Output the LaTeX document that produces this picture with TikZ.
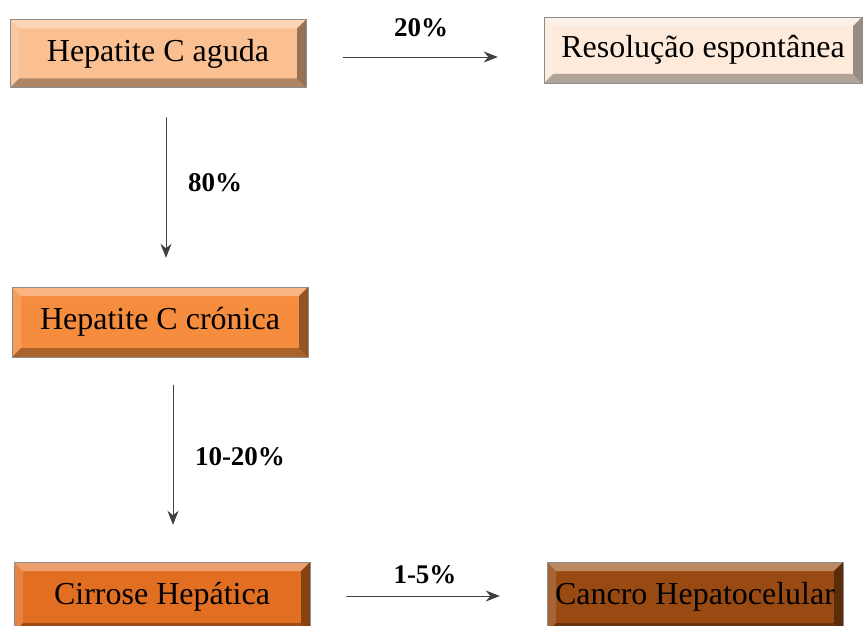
\documentclass[tikz,border=0pt]{standalone}
\usepackage{fontspec}
\setmainfont{Liberation Serif}
\usepackage{xcolor}
\usetikzlibrary{arrows.meta}

\definecolor{peach}{RGB}{250,192,146}
\definecolor{cream}{RGB}{253,234,219}
\definecolor{orangeA}{RGB}{246,141,62}
\definecolor{orangeB}{RGB}{226,110,34}
\definecolor{brownC}{RGB}{152,74,18}

\tikzset{
    bevelbox/.style={draw=black!45,line width=0.4pt,fill=#1,minimum width=296pt,minimum height=68pt,
        inner sep=0pt,font=\fontsize{32}{36}\selectfont,
        path picture={
            \fill[white,opacity=0.35] (path picture bounding box.north west) -- (path picture bounding box.north east)
                -- ([xshift=-9pt,yshift=-9pt]path picture bounding box.north east) -- ([xshift=9pt,yshift=-9pt]path picture bounding box.north west) -- cycle;
            \fill[white,opacity=0.15] (path picture bounding box.north west) -- ([xshift=9pt,yshift=-9pt]path picture bounding box.north west)
                -- ([xshift=9pt,yshift=9pt]path picture bounding box.south west) -- (path picture bounding box.south west) -- cycle;
            \fill[black,opacity=0.3] (path picture bounding box.south west) -- (path picture bounding box.south east)
                -- ([xshift=-9pt,yshift=9pt]path picture bounding box.south east) -- ([xshift=9pt,yshift=9pt]path picture bounding box.south west) -- cycle;
            \fill[black,opacity=0.4] (path picture bounding box.north east) -- (path picture bounding box.south east)
                -- ([xshift=-9pt,yshift=9pt]path picture bounding box.south east) -- ([xshift=-9pt,yshift=-9pt]path picture bounding box.north east) -- cycle;
        }},
    flow/.style={-{Stealth[length=14pt,width=11pt]},line width=0.9pt,color=black!75},
    pct/.style={font=\fontsize{27}{30}\selectfont\bfseries}
}

\begin{document}
\begin{tikzpicture}[line cap=round,line join=round,x=1pt,y=-1pt]
                \useasboundingbox (0,0) rectangle (865,626);
                % boxes
                \node[bevelbox=peach] (aguda) at (158,53.5) {Hepatite C aguda};
                \node[bevelbox=cream,minimum width=318pt,minimum height=66pt] (resolucao) at (703,50) {Resolução espontânea};
                \node[bevelbox=orangeA,minimum height=70pt] (cronica) at (160,322) {Hepatite C crónica};
                \node[bevelbox=orangeB,minimum height=70pt] (cirrose) at (162,597) {Cirrose Hepática};
                \node[bevelbox=brownC,minimum height=70pt] (cancro) at (695,597) {Cancro Hepatocelular};
                % arrows
                \draw[flow] ([xshift=37pt,yshift=-3.5pt]aguda.east) -- ([xshift=-46pt,yshift=-7pt]resolucao.west);
                \draw[flow] ([xshift=8pt,yshift=-30pt]aguda.south) -- ([xshift=6pt,yshift=29pt]cronica.north);
                \draw[flow] ([xshift=13pt,yshift=-28pt]cronica.south) -- ([xshift=11pt,yshift=37pt]cirrose.north);
                \draw[flow] ([xshift=36.5pt,yshift=1pt]cirrose.east) -- ([xshift=-47pt,yshift=1pt]cancro.west);
                % labels
                \node[pct] (p20) at (421,28) {20\%};
                \node[pct] (p80) at (215,183) {80\%};
                \node[pct] (p1020) at (240,457) {10-20\%};
                \node[pct] (p15) at (425,575) {1-5\%};
            \end{tikzpicture}
\end{document}
